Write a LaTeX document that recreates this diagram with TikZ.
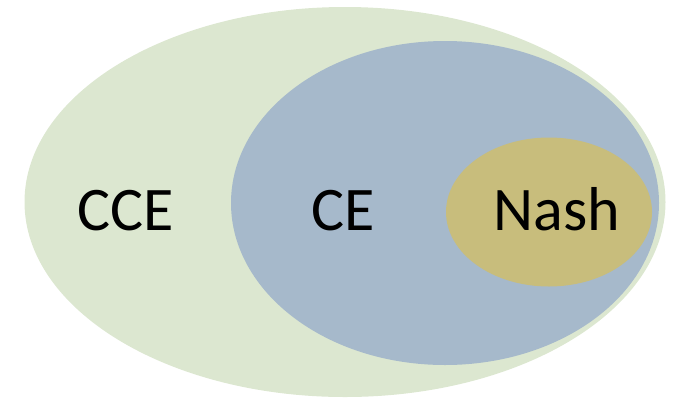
\documentclass[tikz,border=0pt]{standalone}
\usepackage{fontspec}
\setmainfont{Carlito}
\usetikzlibrary{shapes}
\definecolor{cceGreen}{HTML}{DCE7D0}
\definecolor{ceBlue}{HTML}{A6B9CB}
\definecolor{nashGold}{HTML}{C8BD7C}
\tikzstyle{set} = [ellipse, draw=none, inner sep=0pt]
\tikzstyle{lbl} = [anchor=base, font=\fontsize{62}{70}\selectfont, text=black]

\begin{document}
\begin{tikzpicture}[x=1pt,y=-1pt]
\useasboundingbox (0,0) rectangle (674,397);

\node[set, fill=cceGreen, minimum width=641, minimum height=390] (cce) at (345,202) {};
\node[set, fill=ceBlue, minimum width=428, minimum height=324] (ce) at (445,203) {};
\node[set, fill=nashGold, minimum width=206, minimum height=149] (nash) at (549,212) {};

\node[lbl] (cceText) at (126,230) {CCE};
\node[lbl] (ceText) at (343,230) {CE};
\node[lbl] (nashText) at (557,230) {Nash};
\end{tikzpicture}
\end{document}
